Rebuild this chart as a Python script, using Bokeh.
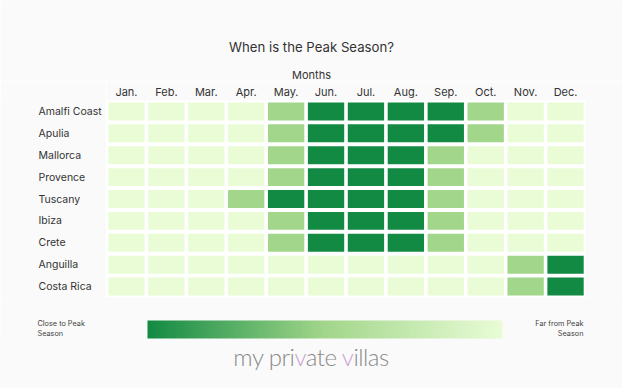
import numpy as np
from bokeh.plotting import figure
from bokeh.models import (ColumnDataSource, LinearColorMapper, ColorBar, FixedTicker,
                          Label, FactorRange, Range1d, Div)
from bokeh.layouts import column, row
from bokeh.core.properties import value
from bokeh.embed import file_html
from bokeh.resources import INLINE

# ---- data (0 = peak season, 1 = shoulder, 2 = far from peak) ----
months = ["Jan.", "Feb.", "Mar.", "Apr.", "May.", "Jun.", "Jul.", "Aug.", "Sep.", "Oct.", "Nov.", "Dec."]
destinations = ["Amalfi Coast", "Apulia", "Mallorca", "Provence", "Tuscany", "Ibiza", "Crete", "Anguilla", "Costa Rica"]
amalfi_coast = [2, 2, 2, 2, 1, 0, 0, 0, 0, 1, 2, 2]
apulia       = [2, 2, 2, 2, 1, 0, 0, 0, 0, 1, 2, 2]
mallorca     = [2, 2, 2, 2, 1, 0, 0, 0, 1, 2, 2, 2]
provence     = [2, 2, 2, 2, 1, 0, 0, 0, 1, 2, 2, 2]
tuscany      = [2, 2, 2, 1, 0, 0, 0, 0, 1, 2, 2, 2]
ibiza        = [2, 2, 2, 2, 1, 0, 0, 0, 1, 2, 2, 2]
crete        = [2, 2, 2, 2, 1, 0, 0, 0, 1, 2, 2, 2]
anguilla     = [2, 2, 2, 2, 2, 2, 2, 2, 2, 2, 1, 0]
costa_rica   = [2, 2, 2, 2, 2, 2, 2, 2, 2, 2, 1, 0]
rows = [amalfi_coast, apulia, mallorca, provence, tuscany, ibiza, crete, anguilla, costa_rica]

title_text = "When is the Peak Season?"
axis_title = "Months"
low_label = "Close to Peak\nSeason"
high_label = "Far from Peak\nSeason"

BG = "#fafafa"
TXT = "#333333"

# ---- palette (style): dark green -> mid green -> pale green ----
def hex2rgb(h):
    h = h.lstrip("#")
    return np.array([int(h[i:i + 2], 16) for i in (0, 2, 4)], dtype=float)

anchors = [hex2rgb("#138a43"), hex2rgb("#a2d68b"), hex2rgb("#e9fcd6")]
palette = []
for i in range(256):
    t = i / 255 * 2
    k = min(int(t), 1)
    f = t - k
    c = anchors[k] * (1 - f) + anchors[k + 1] * f
    palette.append("#%02x%02x%02x" % tuple(int(round(v)) for v in c))

mapper = LinearColorMapper(palette=palette, low=0, high=2)

xs, ys, vals = [], [], []
for dest, r in zip(destinations, rows):
    for m, v in zip(months, r):
        xs.append(m)
        ys.append(dest)
        vals.append(v)
src = ColumnDataSource(dict(month=xs, dest=ys, val=vals))


def blank(width, height, **kw):
    f = figure(width=width, height=height, output_backend="svg", toolbar_location=None,
               min_border_left=0, min_border_right=0, min_border_top=0, min_border_bottom=0,
               **kw)
    f.background_fill_color = BG
    f.border_fill_color = BG
    f.outline_line_color = None
    f.grid.visible = False
    f.axis.visible = False
    return f


# ---- top: title and axis title ----
top = blank(622, 81, x_range=Range1d(0, 1), y_range=Range1d(0, 1))
top.add_layout(Label(x=311, y=35, x_units="screen", y_units="screen", text=title_text,
                     text_align="center", text_baseline="middle", text_font="Inter",
                     text_font_size="13.2px", text_color=TXT))
top.add_layout(Label(x=311, y=7, x_units="screen", y_units="screen", text=axis_title,
                     text_align="center", text_baseline="middle", text_font="Inter",
                     text_font_size="11px", text_color=TXT))

y_range = FactorRange(*list(reversed(destinations)))

# ---- row labels ----
lab = blank(106, 216, x_range=Range1d(0, 106), y_range=y_range)
lab.min_border_top = 18
lab.text(x=[38] * len(destinations), y=destinations, text=destinations,
         text_align="left", text_baseline="middle", text_font=value("Inter"),
         text_font_size="10.5px", text_color=TXT)

# ---- heatmap ----
p = figure(width=516, height=216, x_range=FactorRange(*months), y_range=y_range,
           x_axis_location="above", output_backend="svg", toolbar_location=None,
           min_border_left=0, min_border_right=37, min_border_top=18, min_border_bottom=0)
p.background_fill_color = "white"
p.border_fill_color = BG
p.outline_line_color = None
p.grid.visible = False
p.yaxis.visible = False

p.rect(x="month", y="dest", width=0.91, height=0.82, source=src,
       fill_color={"field": "val", "transform": mapper}, line_color=None)

xa = p.xaxis[0]
xa.axis_line_color = None
xa.major_tick_line_color = None
xa.minor_tick_line_color = None
xa.major_tick_out = 0
xa.major_tick_in = 0
xa.major_label_standoff = 2
xa.major_label_text_font = "Inter"
xa.major_label_text_font_size = "11px"
xa.major_label_text_color = TXT

# ---- bottom: colour bar legend ----
bot = blank(622, 45, x_range=Range1d(0, 1), y_range=Range1d(0, 1))
cb = ColorBar(color_mapper=mapper, orientation="horizontal", location=(147, 4),
              width=355, height=18, padding=0, ticker=FixedTicker(ticks=[]),
              major_tick_line_color=None, minor_tick_line_color=None,
              bar_line_color=None, border_line_color=None, background_fill_alpha=0,
              major_label_text_font_size="0px", label_standoff=0)
bot.add_layout(cb, "center")
bot.add_layout(Label(x=37, y=24, x_units="screen", y_units="screen", text=low_label,
                     text_align="left", text_baseline="top", text_font="Inter",
                     text_font_size="7.3px", text_color="#444444"))
bot.add_layout(Label(x=583, y=24, x_units="screen", y_units="screen", text=high_label,
                     text_align="right", text_baseline="top", text_font="Inter",
                     text_font_size="7.3px", text_color="#444444"))

logo = Div(text=('<div style="width:622px;text-align:center;font-family:Lato;font-weight:300;'
                 'font-size:24px;letter-spacing:-0.5px;line-height:30px;color:#8a8a8a;'
                 'padding-top:0px;">'
                 'my pri<span style="color:#c9a2d2">v</span>ate '
                 '<span style="color:#c9a2d2">v</span>illas</div>'),
           width=622, height=46, margin=(0, 0, 0, 0),
           styles={"background-color": BG})

layout = column(top, row(lab, p, spacing=0), bot, logo, spacing=0)
open("out.html", "w").write(file_html(layout, INLINE))
